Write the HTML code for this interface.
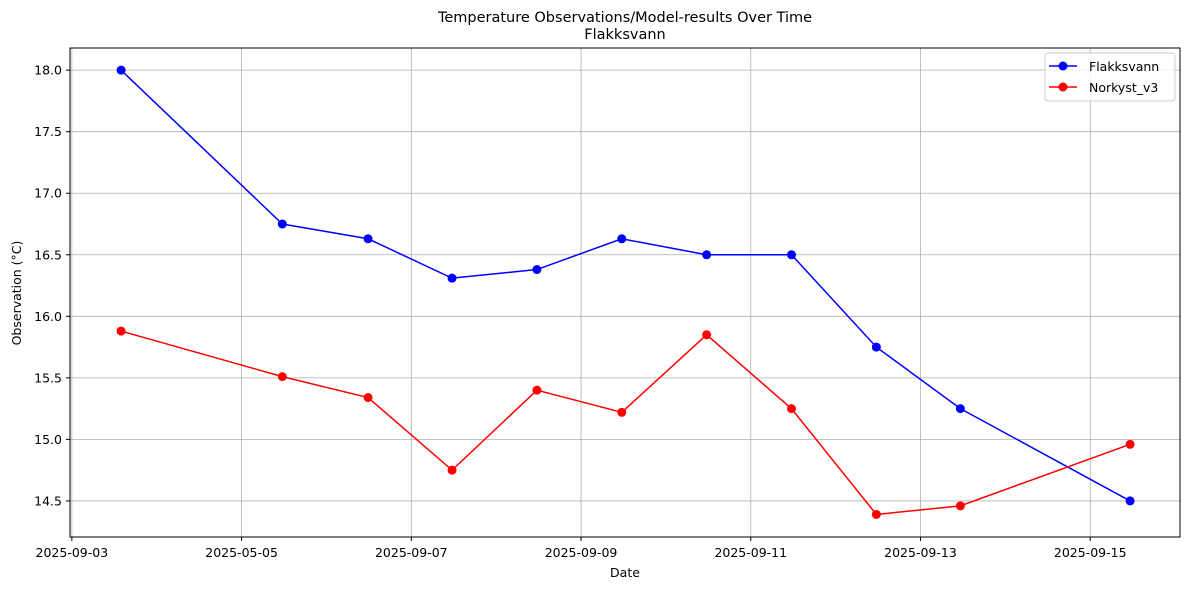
<!DOCTYPE html>
<html><head><meta charset="utf-8"><style>
body{margin:0;background:#fff;font-family:"Liberation Sans","DejaVu Sans",sans-serif;}
svg text{font-family:"DejaVu Sans","Liberation Sans",sans-serif;fill:#000;}
</style></head><body>
<svg id="chart" width="1190" height="590" xmlns="http://www.w3.org/2000/svg">
<text x="625" y="22" text-anchor="middle" font-size="14.5">Temperature Observations/Model-results Over Time</text>
<text x="625" y="39" text-anchor="middle" font-size="14.5">Flakksvann</text>
<g id="grid"></g><g id="series"></g><g id="axes"></g>
<text x="625" y="577" text-anchor="middle" font-size="12.5">Date</text>
<text x="21" y="293" text-anchor="middle" font-size="12.5" transform="rotate(-90 21 293)">Observation (°C)</text>
<g>
<rect x="1045" y="53" width="130" height="48" rx="3" fill="#fff" fill-opacity="0.8" stroke="#ccc"/>
<g><line x1="1049" y1="66" x2="1077" y2="66" stroke="blue" stroke-width="1.5"/><circle cx="1063" cy="66" r="4.5" fill="blue"/><text x="1089" y="71" font-size="12.5">Flakksvann</text></g>
<g><line x1="1049" y1="87" x2="1077" y2="87" stroke="red" stroke-width="1.5"/><circle cx="1063" cy="87" r="4.5" fill="red"/><text x="1089" y="92" font-size="12.5">Norkyst_v3</text></g>
</g>
</svg>
<script>
const dayOffsets=[0.58,2.48,3.49,4.48,5.48,6.48,7.48,8.48,9.48,10.47,12.47];
const flakksvann=[18.0,16.75,16.63,16.31,16.38,16.63,16.5,16.5,15.75,15.25,14.5];
const norkyst=[15.88,15.51,15.34,14.75,15.40,15.22,15.85,15.25,14.39,14.46,14.96];
const xTickDays=[0,2,4,6,8,10,12];
const xTickLabels=["2025-09-03","2025-05-05","2025-09-07","2025-09-09","2025-09-11","2025-09-13","2025-09-15"];
const yTicks=[14.5,15.0,15.5,16.0,16.5,17.0,17.5,18.0];

const L=70,R=1180,T=48,B=537;
const xDom=[-0.022,13.058], yDom=[14.207,18.18];
const xs=d=>L+(d-xDom[0])/(xDom[1]-xDom[0])*(R-L);
const ys=v=>B-(v-yDom[0])/(yDom[1]-yDom[0])*(B-T);
const NS="http://www.w3.org/2000/svg";
function mk(tag,attrs,parent){const e=document.createElementNS(NS,tag);for(const k in attrs)e.setAttribute(k,attrs[k]);parent.appendChild(e);return e;}
const grid=document.getElementById('grid'),axes=document.getElementById('axes'),series=document.getElementById('series');
xTickDays.forEach((d,i)=>{const x=xs(d);
 const g=mk('line',{x1:x,x2:x,y1:T,y2:B,stroke:'#b0b0b0','stroke-width':0.8},grid);
 
 
 mk('line',{x1:x,x2:x,y1:B,y2:B+4,stroke:'#000'},axes);
 const t=mk('text',{x:x,y:B+20,'text-anchor':'middle','font-size':12.5},axes);t.textContent=xTickLabels[i];
 
 
});
yTicks.forEach(v=>{const y=ys(v);
 const g=mk('line',{x1:L,x2:R,y1:y,y2:y,stroke:'#b0b0b0','stroke-width':0.8},grid);
 
 
 mk('line',{x1:L-4,x2:L,y1:y,y2:y,stroke:'#000'},axes);
 const t=mk('text',{x:L-8,y:y+4.5,'text-anchor':'end','font-size':12.5},axes);t.textContent=v.toFixed(1);
 
 
});
const frame=mk('rect',{x:L,y:T,width:R-L,height:B-T,fill:'none',stroke:'#000','stroke-width':1},axes);


function draw(vals,color,name){
 const p=mk('polyline',{points:vals.map((v,i)=>xs(dayOffsets[i])+','+ys(v)).join(' '),fill:'none',stroke:color,'stroke-width':1.5},series);
 
 
 vals.forEach((v,i)=>{const c=mk('circle',{cx:xs(dayOffsets[i]),cy:ys(v),r:4.5,fill:color},series);
  
  });
}
draw(flakksvann,'blue','flakksvann');
draw(norkyst,'red','norkyst');
</script>
</body></html>
